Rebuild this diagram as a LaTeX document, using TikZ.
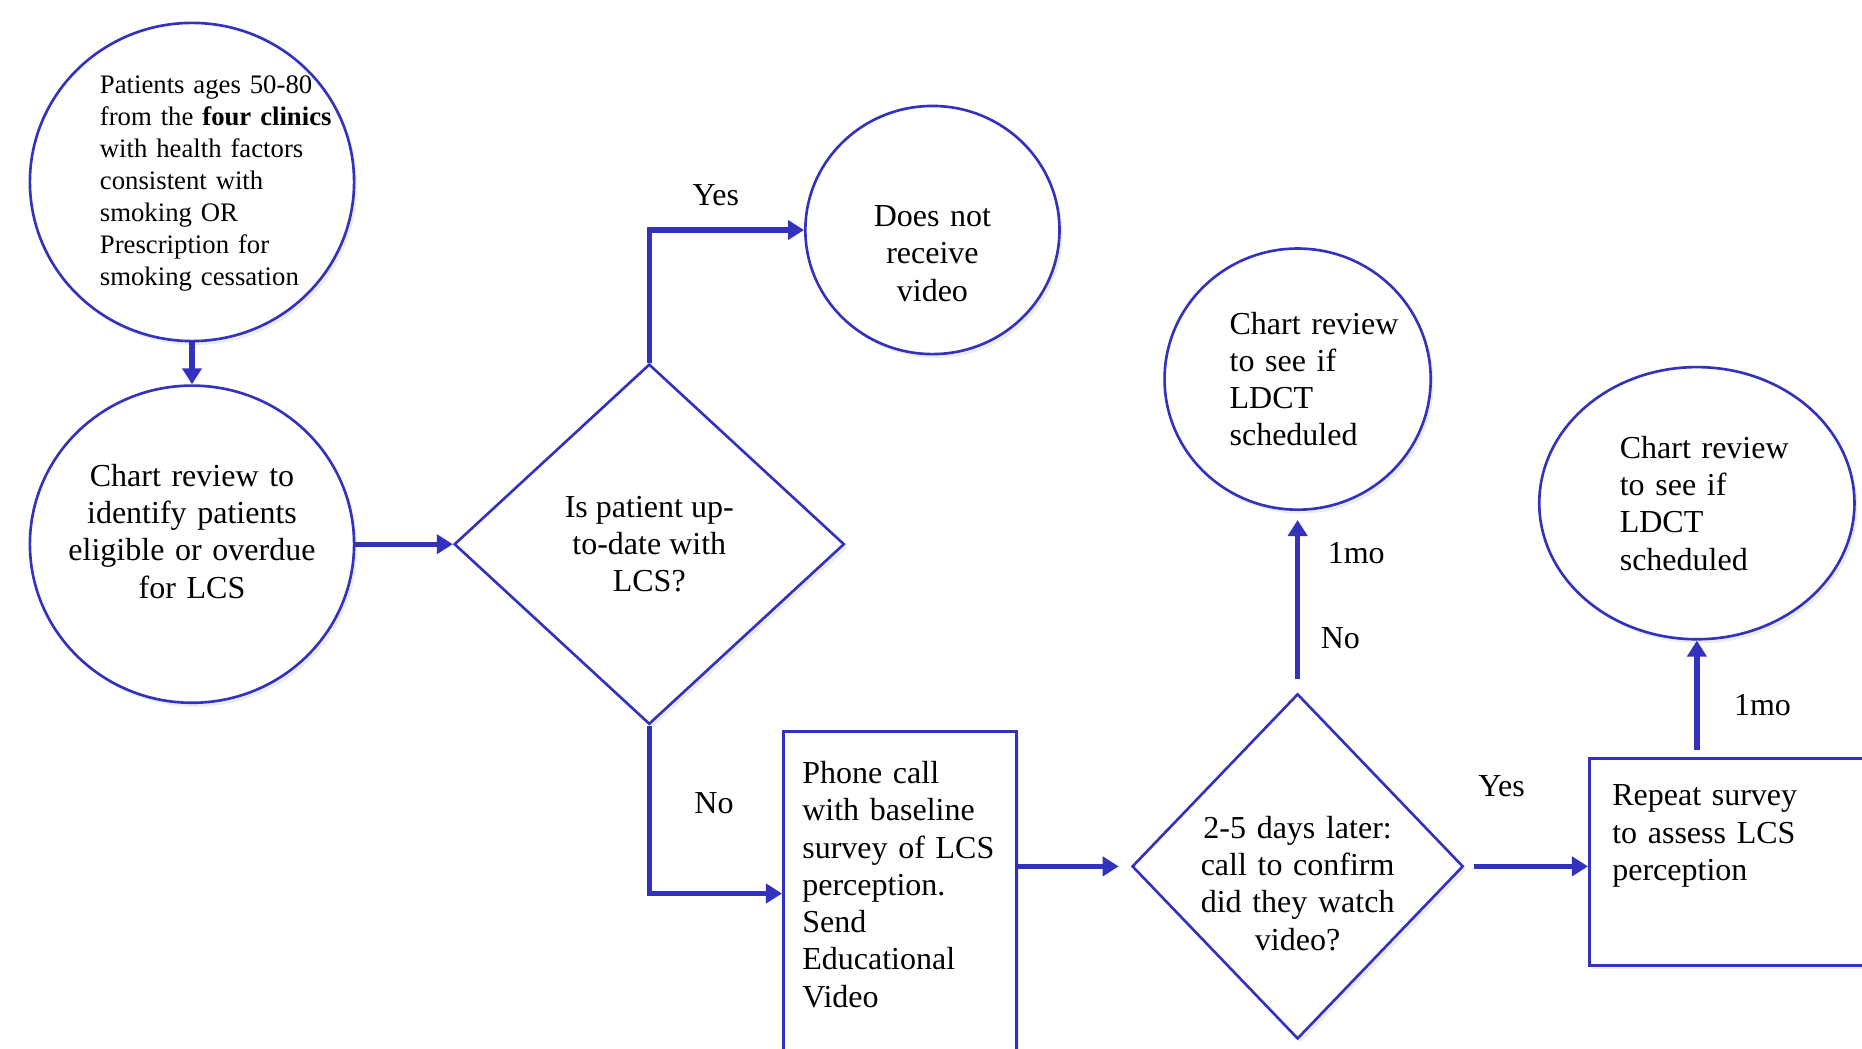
\documentclass[tikz,border=0pt]{standalone}
\usepackage{fontspec}
\setmainfont{Liberation Serif}
\usepackage{xcolor}
\usetikzlibrary{positioning, arrows.meta, shapes.geometric, shadows}
\definecolor{flowblue}{RGB}{50,50,190}
\newcommand{\site}[1]{\textbf{#1}}

\begin{document}
\begin{tikzpicture}[
				x=0.01cm, y=-0.01cm,
				>={Triangle[length=1.6mm, width=1.9mm]},
				on grid,
				font=\fontsize{9.1}{10.6}\selectfont,
				box/.style={draw=flowblue, line width=0.75pt, fill=white,
					drop shadow={opacity=0.15, shadow xshift=0.3mm, shadow yshift=-0.4mm}},
				round/.style={box, ellipse, inner sep=-1mm},
				choice/.style={box, diamond, aspect=1, inner sep=-1.5mm, align=center},
				task/.style={box, rectangle, anchor=north west, align=left, inner xsep=2.2mm, inner ysep=1.8mm},
				flow/.style={->, draw=flowblue, line width=1.5pt},
				lbl/.style={inner sep=0.3em}]

			\useasboundingbox (0,0) rectangle (1862,1049);
			\clip (0,0) rectangle (1862,1049);

			\node[round, minimum width=3.24cm, minimum height=3.18cm, text width=3.16cm, align=left, inner sep=-4.5mm,
				font=\fontsize{7.6}{9.1}\selectfont, text depth=1.95cm] (patients) at (192,182)
				{\leftskip=0.66cm Patients ages 50-80\\from the \site{four clinics}\\with health factors\\consistent with\\smoking OR\\Prescription for\\smoking cessation\par};
			\node[round, below=3.62cm of patients, minimum width=3.24cm, minimum height=3.17cm, text width=2.6cm, align=center,
				inner sep=-2mm, text depth=1.38cm] (review)
				{Chart review to\\identify patients\\eligible or overdue\\for LCS};
			\node[choice, right=4.57cm of review, minimum width=3.9cm, minimum height=3.6cm] (uptodate)
				{Is patient up-\\to-date with\\LCS?};
			\node[round, above right=3.14cm and 2.83cm of uptodate, minimum width=2.54cm, minimum height=2.48cm,
				text width=1.3cm, align=center, text height=0.68cm] (novideo)
				{Does not\\receive\\video};
			\node[task, text width=1.95cm, inner xsep=1.9mm, inner ysep=3mm, text depth=2.42cm] (phone) at (782,730)
				{Phone call\\with baseline\\survey of LCS\\perception.\\Send\\Educational\\Video};
			\node[choice, below right=3.22cm and 6.48cm of uptodate, minimum width=3.31cm, minimum height=3.45cm,
				text width=2cm, text height=0.56cm] (watched)
				{2-5 days later:\\call to confirm\\did they watch\\video?};
			\node[round, above=4.87cm of watched, minimum width=2.66cm, minimum height=2.61cm, text width=2.24cm, align=left,
				inner sep=-2mm] (ldctfirst)
				{\leftskip=0.44cm Chart review\\to see if\\LDCT\\scheduled\par};
			\node[round, below right=1.24cm and 3.99cm of ldctfirst, minimum width=3.15cm, minimum height=2.72cm, text width=2.06cm,
				align=left] (ldctsecond)
				{\leftskip=0.26cm Chart review\\to see if\\LDCT\\scheduled\par};
			\node[task, text width=2.9cm, text depth=1.33cm, inner xsep=2.3mm, inner ysep=2.65mm] (repeat) at (1588,757)
				{Repeat survey\\to assess LCS\\perception};

			\draw[flow] (patients) -- (review);
			\draw[flow] (review) -- (uptodate);
			\draw[flow] (uptodate.north) |- node[lbl, above=1.1mm, pos=0.715]{Yes} (novideo.west);
			\draw[flow] (uptodate.south) |- node[lbl, right=3.2mm, pos=0.23]{No} (phone.west);
			\draw[flow, shorten >=1.2mm] (phone.east |- watched.west) -- (watched.west);
			\draw[flow, shorten <=1.3mm, shorten >=0.9mm] (watched.north) -- node[lbl, right=1mm, pos=0.3]{No}
				node[lbl, right=1.7mm, pos=0.77]{1mo} (ldctfirst.south);
			\draw[flow, shorten <=0.9mm] (watched.east) -- node[lbl, above=5.6mm, pos=0.3]{Yes} (repeat.west |- watched.east);
			\draw[flow, shorten <=0.7mm] (repeat.north -| ldctsecond.south) -- node[lbl, right=2.4mm, pos=0.45]{1mo} (ldctsecond.south);

\end{tikzpicture}
\end{document}
